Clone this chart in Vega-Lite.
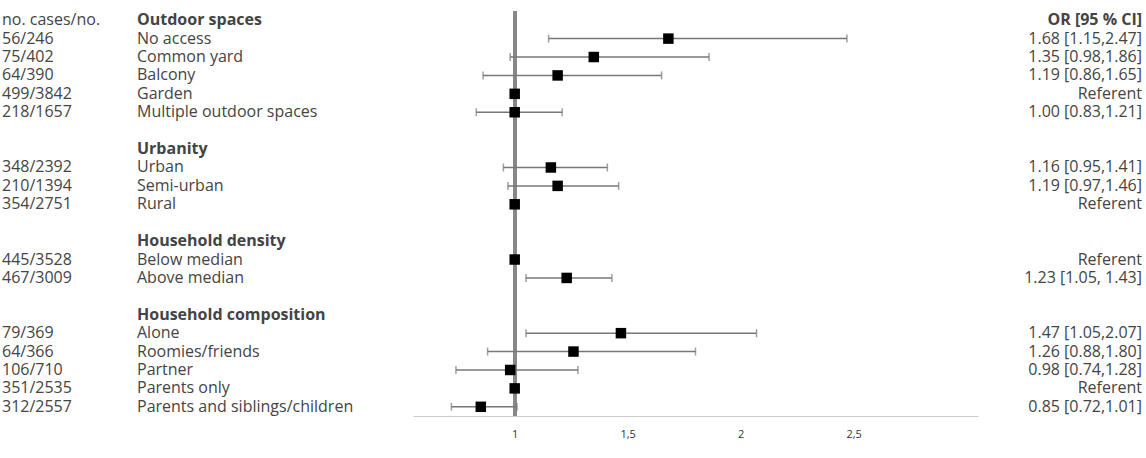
{
  "$schema": "https://vega.github.io/schema/vega-lite/v6.json",
  "padding": {"left": 2, "top": 9, "right": 4, "bottom": 0},
  "spacing": 0,
  "data": {"values": [
    {"row": 0, "cases": "no. cases/no.", "label": "Outdoor spaces", "bold": true, "ci": "OR [95 % CI]"},
    {"row": 1, "cases": "56/246", "label": "No access", "bold": false, "or": 1.68, "lo": 1.15, "hi": 2.47, "ci": "1.68 [1.15,2.47]"},
    {"row": 2, "cases": "75/402", "label": "Common yard", "bold": false, "or": 1.35, "lo": 0.98, "hi": 1.86, "ci": "1.35 [0.98,1.86]"},
    {"row": 3, "cases": "64/390", "label": "Balcony", "bold": false, "or": 1.19, "lo": 0.86, "hi": 1.65, "ci": "1.19 [0.86,1.65]"},
    {"row": 4, "cases": "499/3842", "label": "Garden", "bold": false, "or": 1, "ci": "Referent"},
    {"row": 5, "cases": "218/1657", "label": "Multiple outdoor spaces", "bold": false, "or": 1.0, "lo": 0.83, "hi": 1.21, "ci": "1.00 [0.83,1.21]"},
    {"row": 6, "cases": "", "label": "", "bold": false, "ci": ""},
    {"row": 7, "cases": "", "label": "Urbanity", "bold": true, "ci": ""},
    {"row": 8, "cases": "348/2392", "label": "Urban", "bold": false, "or": 1.16, "lo": 0.95, "hi": 1.41, "ci": "1.16 [0.95,1.41]"},
    {"row": 9, "cases": "210/1394", "label": "Semi-urban", "bold": false, "or": 1.19, "lo": 0.97, "hi": 1.46, "ci": "1.19 [0.97,1.46]"},
    {"row": 10, "cases": "354/2751", "label": "Rural", "bold": false, "or": 1, "ci": "Referent"},
    {"row": 11, "cases": "", "label": "", "bold": false, "ci": ""},
    {"row": 12, "cases": "", "label": "Household density", "bold": true, "ci": ""},
    {"row": 13, "cases": "445/3528", "label": "Below median", "bold": false, "or": 1, "ci": "Referent"},
    {"row": 14, "cases": "467/3009", "label": "Above median", "bold": false, "or": 1.23, "lo": 1.05, "hi": 1.43, "ci": "1.23 [1.05, 1.43]"},
    {"row": 15, "cases": "", "label": "", "bold": false, "ci": ""},
    {"row": 16, "cases": "", "label": "Household composition", "bold": true, "ci": ""},
    {"row": 17, "cases": "79/369", "label": "Alone", "bold": false, "or": 1.47, "lo": 1.05, "hi": 2.07, "ci": "1.47 [1.05,2.07]"},
    {"row": 18, "cases": "64/366", "label": "Roomies/friends", "bold": false, "or": 1.26, "lo": 0.88, "hi": 1.8, "ci": "1.26 [0.88,1.80]"},
    {"row": 19, "cases": "106/710", "label": "Partner", "bold": false, "or": 0.98, "lo": 0.74, "hi": 1.28, "ci": "0.98 [0.74,1.28]"},
    {"row": 20, "cases": "351/2535", "label": "Parents only", "bold": false, "or": 1, "ci": "Referent"},
    {"row": 21, "cases": "312/2557", "label": "Parents and siblings/children", "bold": false, "or": 0.85, "lo": 0.72, "hi": 1.01, "ci": "0.85 [0.72,1.01]"}
  ]},
  "hconcat": [
    {
      "width": 135, "height": 405,
      "mark": {"type": "text", "align": "left", "font": "Open Sans", "fontSize": 16, "color": "#444"},
      "encoding": {
        "y": {"field": "row", "type": "ordinal", "axis": null, "scale": {"domain": [0,1,2,3,4,5,6,7,8,9,10,11,12,13,14,15,16,17,18,19,20,21], "paddingInner": 0, "paddingOuter": 0}},
        "x": {"value": 0},
        "text": {"field": "cases"}
      }
    },
    {
      "width": 276, "height": 405,
      "encoding": {
        "y": {"field": "row", "type": "ordinal", "axis": null, "scale": {"domain": [0,1,2,3,4,5,6,7,8,9,10,11,12,13,14,15,16,17,18,19,20,21], "paddingInner": 0, "paddingOuter": 0}},
        "x": {"value": 0},
        "text": {"field": "label"}
      },
      "layer": [
        {"transform": [{"filter": "!datum.bold"}], "mark": {"type": "text", "align": "left", "font": "Open Sans", "fontSize": 16, "color": "#444"}},
        {"transform": [{"filter": "datum.bold"}], "mark": {"type": "text", "align": "left", "font": "Open Sans", "fontSize": 16, "fontWeight": "bold", "color": "#444"}}
      ]
    },
    {
      "width": 565, "height": 405,
      "encoding": {
        "y": {"field": "row", "type": "ordinal", "axis": null, "scale": {"domain": [0,1,2,3,4,5,6,7,8,9,10,11,12,13,14,15,16,17,18,19,20,21], "paddingInner": 0, "paddingOuter": 0}}
      },
      "layer": [
        {
          "mark": {"type": "rule", "color": "#888", "strokeWidth": 3},
          "encoding": {"y": null, "x": {"datum": 1, "type": "quantitative", "scale": {"domain": [0.55, 3.05], "nice": false, "zero": false},
            "axis": {"values": [1, 1.5, 2, 2.5], "labelExpr": "replace(format(datum.value, '~g'), '.', ',')", "ticks": false, "grid": false, "domainColor": "#ccc", "labelPadding": 12, "labelFontSize": 11, "labelFont": "Open Sans", "labelColor": "#333", "title": null}}}
        },
        {
          "transform": [{"filter": "isValid(datum.lo)"}],
          "mark": {"type": "rule", "color": "#777", "strokeWidth": 1.5},
          "encoding": {"x": {"field": "lo", "type": "quantitative"}, "x2": {"field": "hi"}}
        },
        {
          "transform": [{"filter": "isValid(datum.lo)"}],
          "mark": {"type": "tick", "color": "#777", "thickness": 1.5, "size": 8, "orient": "vertical"},
          "encoding": {"x": {"field": "lo", "type": "quantitative"}}
        },
        {
          "transform": [{"filter": "isValid(datum.lo)"}],
          "mark": {"type": "tick", "color": "#777", "thickness": 1.5, "size": 8, "orient": "vertical"},
          "encoding": {"x": {"field": "hi", "type": "quantitative"}}
        },
        {
          "transform": [{"filter": "isValid(datum.or)"}],
          "mark": {"type": "square", "color": "black", "filled": true, "opacity": 1, "size": 110},
          "encoding": {"x": {"field": "or", "type": "quantitative"}}
        }
      ]
    },
    {
      "width": 164, "height": 405,
      "encoding": {
        "y": {"field": "row", "type": "ordinal", "axis": null, "scale": {"domain": [0,1,2,3,4,5,6,7,8,9,10,11,12,13,14,15,16,17,18,19,20,21], "paddingInner": 0, "paddingOuter": 0}},
        "x": {"value": 164},
        "text": {"field": "ci"}
      },
      "layer": [
        {"transform": [{"filter": "!datum.bold"}], "mark": {"type": "text", "align": "right", "font": "Open Sans", "fontSize": 16, "color": "#444"}},
        {"transform": [{"filter": "datum.bold"}], "mark": {"type": "text", "align": "right", "font": "Open Sans", "fontSize": 16, "fontWeight": "bold", "color": "#444"}}
      ]
    }
  ],
  "config": {"view": {"stroke": null}}
}
